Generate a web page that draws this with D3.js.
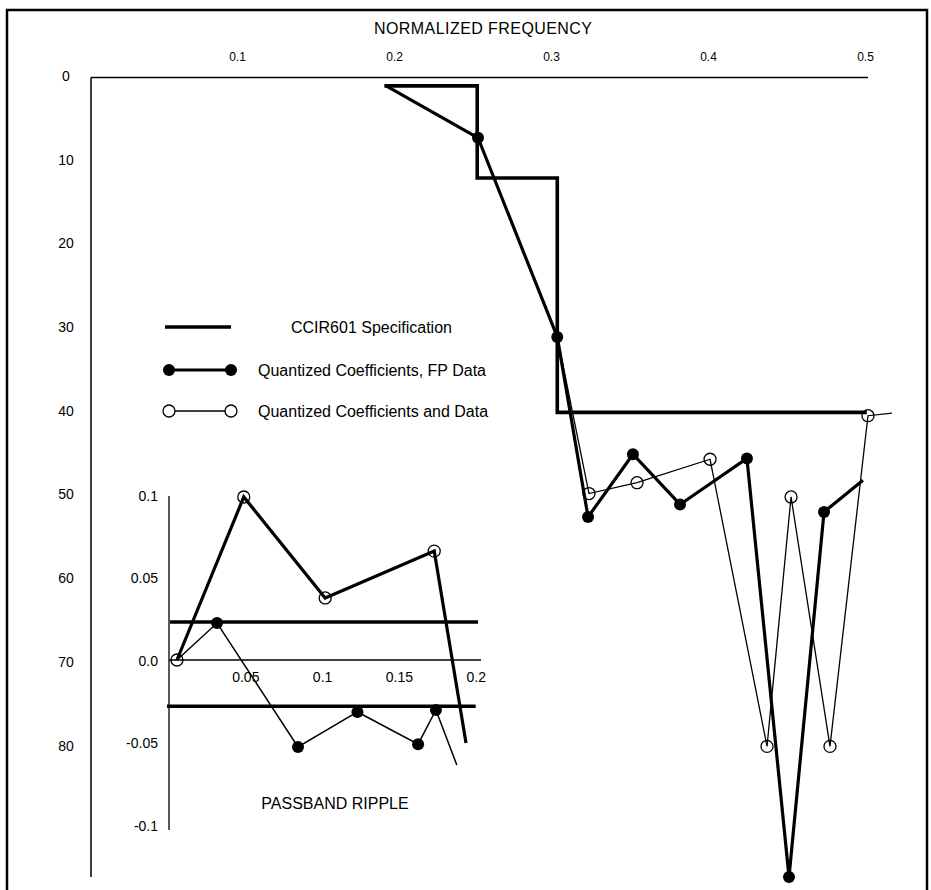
<!DOCTYPE html>
<html>
<head>
<meta charset="utf-8">
<script src="https://cdn.jsdelivr.net/npm/d3@7"></script>
<style>
  html, body { margin: 0; padding: 0; background: #fff; }
  svg { display: block; font-family: "Liberation Sans", Arial, Helvetica, sans-serif; }
</style>
</head>
<body>
<svg id="chart" width="931" height="890"></svg>
<script>
// ---------------- data ----------------
const topTickValues = [0.1, 0.2, 0.3, 0.4, 0.5];
const topTickLabels = ["0.1", "0.2", "0.3", "0.4", "0.5"];
const dbTickValues = [0, 10, 20, 30, 40, 50, 60, 70, 80];
const dbTickLabels = ["0", "10", "20", "30", "40", "50", "60", "70", "80"];

// CCIR601 specification mask (normalized frequency, attenuation dB)
const specFreq = [0.195, 0.253, 0.253, 0.304, 0.304, 0.5];
const specDb   = [1, 1, 12, 12, 40, 40];

// Quantized Coefficients, FP Data (filled dots)
const fpFreq   = [0.195, 0.2535, 0.304, 0.3236, 0.3522, 0.3822, 0.4248, 0.4516, 0.4739, 0.4987];
const fpDb     = [1, 7.2, 31.0, 52.5, 45.0, 51.0, 45.5, 95.5, 51.9, 48.1];
const fpMarker = [false, true, true, true, true, true, true, true, true, false];

// Quantized Coefficients and Data (open circles)
const qFreq    = [0.2535, 0.304, 0.3242, 0.3548, 0.4013, 0.4376, 0.4529, 0.4777, 0.5019, 0.5172];
const qDb      = [7.2, 31.0, 49.7, 48.4, 45.6, 79.9, 50.1, 79.9, 40.4, 40.1];
const qMarker  = [false, false, true, true, true, true, true, true, true, false];

// Passband ripple inset
const rippleXTickValues = [0.05, 0.1, 0.15, 0.2];
const rippleXTickLabels = ["0.05", "0.1", "0.15", "0.2"];
const rippleYTickValues = [0.1, 0.05, 0, -0.05, -0.1];
const rippleYTickLabels = ["0.1", "0.05", "0.0", "-0.05", "-0.1"];
const rippleLimits = [0.023, -0.028];

const rippleOpenFreq   = [0.0055, 0.049, 0.102, 0.173, 0.1937];
const rippleOpenVal    = [0, 0.0988, 0.0376, 0.066, -0.0503];
const rippleOpenMarker = [true, true, true, true, false];

const rippleFilledFreq   = [0.0055, 0.0316, 0.0843, 0.123, 0.1625, 0.1741, 0.1877];
const rippleFilledVal    = [0, 0.0224, -0.0527, -0.0315, -0.051, -0.0303, -0.0636];
const rippleFilledMarker = [false, true, true, true, true, true, false];

const legendLabels = ["CCIR601  Specification", "Quantized Coefficients, FP Data", "Quantized Coefficients and Data"];

// ---------------- drawing ----------------
const svg = d3.select("#chart");

// outer frame
svg.append("rect")
  .attr("x", 7).attr("y", 10).attr("width", 920).attr("height", 900)
  .attr("fill", "none").attr("stroke", "#000").attr("stroke-width", 2.5);

// title
svg.append("text")
  .attr("x", 483).attr("y", 34)
  .attr("text-anchor", "middle")
  .attr("font-size", 16)
  .attr("textLength", 218)
  .text("NORMALIZED  FREQUENCY");

// main scales
const x = d3.scaleLinear().domain([0, 0.5]).range([80, 865]);
const y = d3.scaleLinear().domain([0, 95.5]).range([77.5, 877]);

// axis lines
svg.append("line")
  .attr("x1", 91).attr("x2", x(0.5) + 3)
  .attr("y1", y(0)).attr("y2", y(0))
  .attr("stroke", "#000").attr("stroke-width", 1.5);
svg.append("line")
  .attr("x1", 91).attr("x2", 91)
  .attr("y1", y(0)).attr("y2", y(95.5))
  .attr("stroke", "#000").attr("stroke-width", 1.5);

// top axis labels
const topAxis = svg.append("g")
  .attr("transform", `translate(0,${y(0)})`)
  .call(d3.axisTop(x).tickValues(topTickValues)
    .tickFormat((d, i) => topTickLabels[i]).tickSize(0).tickPadding(17));
topAxis.select(".domain").remove();
topAxis.selectAll("text").attr("font-size", 12).attr("font-family", null).attr("fill", "#000");

// left axis labels
const leftAxis = svg.append("g")
  .attr("transform", "translate(91,0)")
  .call(d3.axisLeft(y).tickValues(dbTickValues)
    .tickFormat((d, i) => dbTickLabels[i]).tickSize(0).tickPadding(25));
leftAxis.select(".domain").remove();
leftAxis.selectAll("text")
  .attr("text-anchor", "middle").attr("dy", "0.2em")
  .attr("font-size", 14).attr("font-family", null).attr("fill", "#000");

// spec line
const lineMain = d3.line().x(d => x(d[0])).y(d => y(d[1]));
const specData = specFreq.map((f, i) => [f, specDb[i]]);
svg.append("path").datum(specData)
  .attr("d", lineMain).attr("fill", "none")
  .attr("stroke", "#000").attr("stroke-width", 3.6)
  .attr("stroke-linejoin", "miter").attr("stroke-linecap", "square");

// open-circle series (thin)
const qData = qFreq.map((f, i) => [f, qDb[i], qMarker[i]]);
svg.append("path").datum(qData)
  .attr("d", lineMain).attr("fill", "none")
  .attr("stroke", "#000").attr("stroke-width", 1.3);
svg.append("g").selectAll("circle")
  .data(qData.filter(d => d[2])).join("circle")
  .attr("cx", d => x(d[0])).attr("cy", d => y(d[1])).attr("r", 6)
  .attr("fill", "none").attr("stroke", "#000").attr("stroke-width", 1.3);

// filled-dot series (thick)
const fpData = fpFreq.map((f, i) => [f, fpDb[i], fpMarker[i]]);
svg.append("path").datum(fpData)
  .attr("d", lineMain).attr("fill", "none")
  .attr("stroke", "#000").attr("stroke-width", 3.2);
svg.append("g").selectAll("circle")
  .data(fpData.filter(d => d[2])).join("circle")
  .attr("cx", d => x(d[0])).attr("cy", d => y(d[1])).attr("r", 6)
  .attr("fill", "#000");

// legend
const legend = svg.append("g");
const legY = [327, 370, 411];
legend.append("line")
  .attr("x1", 165).attr("x2", 231).attr("y1", legY[0]).attr("y2", legY[0])
  .attr("stroke", "#000").attr("stroke-width", 3.6);
legend.append("line")
  .attr("x1", 169).attr("x2", 231).attr("y1", legY[1]).attr("y2", legY[1])
  .attr("stroke", "#000").attr("stroke-width", 3);
legend.selectAll("circle.f").data([169, 231]).join("circle")
  .attr("class", "f").attr("cx", d => d).attr("cy", legY[1]).attr("r", 6).attr("fill", "#000");
legend.append("line")
  .attr("x1", 169).attr("x2", 231).attr("y1", legY[2]).attr("y2", legY[2])
  .attr("stroke", "#000").attr("stroke-width", 1.3);
legend.selectAll("circle.o").data([169, 231]).join("circle")
  .attr("class", "o").attr("cx", d => d).attr("cy", legY[2]).attr("r", 6)
  .attr("fill", "#fff").attr("stroke", "#000").attr("stroke-width", 1.3);
const legX = [291, 258, 258];
legend.selectAll("text").data(legendLabels).join("text")
  .attr("x", (d, i) => legX[i]).attr("y", (d, i) => legY[i])
  .attr("dy", "0.36em").attr("font-size", 16)
  .text(d => d);

// ---------------- inset: passband ripple ----------------
const xi = d3.scaleLinear().domain([0, 0.2]).range([168.5, 475.7]);
const yi = d3.scaleLinear().domain([-0.1, 0.1]).range([825, 495]);

svg.append("line")
  .attr("x1", 169).attr("x2", 169).attr("y1", yi(0.1) + 1).attr("y2", yi(-0.103))
  .attr("stroke", "#000").attr("stroke-width", 1.3);
svg.append("line")
  .attr("x1", 169).attr("x2", xi(0.2035)).attr("y1", yi(0)).attr("y2", yi(0))
  .attr("stroke", "#000").attr("stroke-width", 1.3);

const insetY = svg.append("g")
  .attr("transform", "translate(169,0)")
  .call(d3.axisLeft(yi).tickValues(rippleYTickValues)
    .tickFormat((d, i) => rippleYTickLabels[i]).tickSize(0).tickPadding(11));
insetY.select(".domain").remove();
insetY.selectAll("text").attr("font-size", 14).attr("font-family", null).attr("fill", "#000").attr("dy", "0.38em");

const insetX = svg.append("g")
  .attr("transform", `translate(0,${yi(0)})`)
  .call(d3.axisBottom(xi).tickValues(rippleXTickValues)
    .tickFormat((d, i) => rippleXTickLabels[i]).tickSize(0).tickPadding(12));
insetX.select(".domain").remove();
insetX.selectAll("text").attr("font-size", 14).attr("font-family", null).attr("fill", "#000");

// ripple limit lines
svg.append("g").selectAll("line")
  .data(rippleLimits).join("line")
  .attr("x1", (d, i) => xi(i === 0 ? 0.001 : -0.001))
  .attr("x2", (d, i) => xi(i === 0 ? 0.2015 : 0.2))
  .attr("y1", d => yi(d)).attr("y2", d => yi(d))
  .attr("stroke", "#000").attr("stroke-width", 3.6);

const lineInset = d3.line().x(d => xi(d[0])).y(d => yi(d[1]));

// thin line with filled dots
const rfData = rippleFilledFreq.map((f, i) => [f, rippleFilledVal[i], rippleFilledMarker[i]]);
svg.append("path").datum(rfData)
  .attr("d", lineInset).attr("fill", "none")
  .attr("stroke", "#000").attr("stroke-width", 1.5);
svg.append("g").selectAll("circle")
  .data(rfData.filter(d => d[2])).join("circle")
  .attr("cx", d => xi(d[0])).attr("cy", d => yi(d[1])).attr("r", 6)
  .attr("fill", "#000");

// thick line with open circles
const roData = rippleOpenFreq.map((f, i) => [f, rippleOpenVal[i], rippleOpenMarker[i]]);
svg.append("path").datum(roData)
  .attr("d", lineInset).attr("fill", "none")
  .attr("stroke", "#000").attr("stroke-width", 3.2);
svg.append("g").selectAll("circle")
  .data(roData.filter(d => d[2])).join("circle")
  .attr("cx", d => xi(d[0])).attr("cy", d => yi(d[1])).attr("r", 6)
  .attr("fill", "none").attr("stroke", "#000").attr("stroke-width", 1.3);

svg.append("text")
  .attr("x", 335).attr("y", 803).attr("dy", "0.36em")
  .attr("text-anchor", "middle").attr("font-size", 16)
  .text("PASSBAND  RIPPLE");
</script>
</body>
</html>
